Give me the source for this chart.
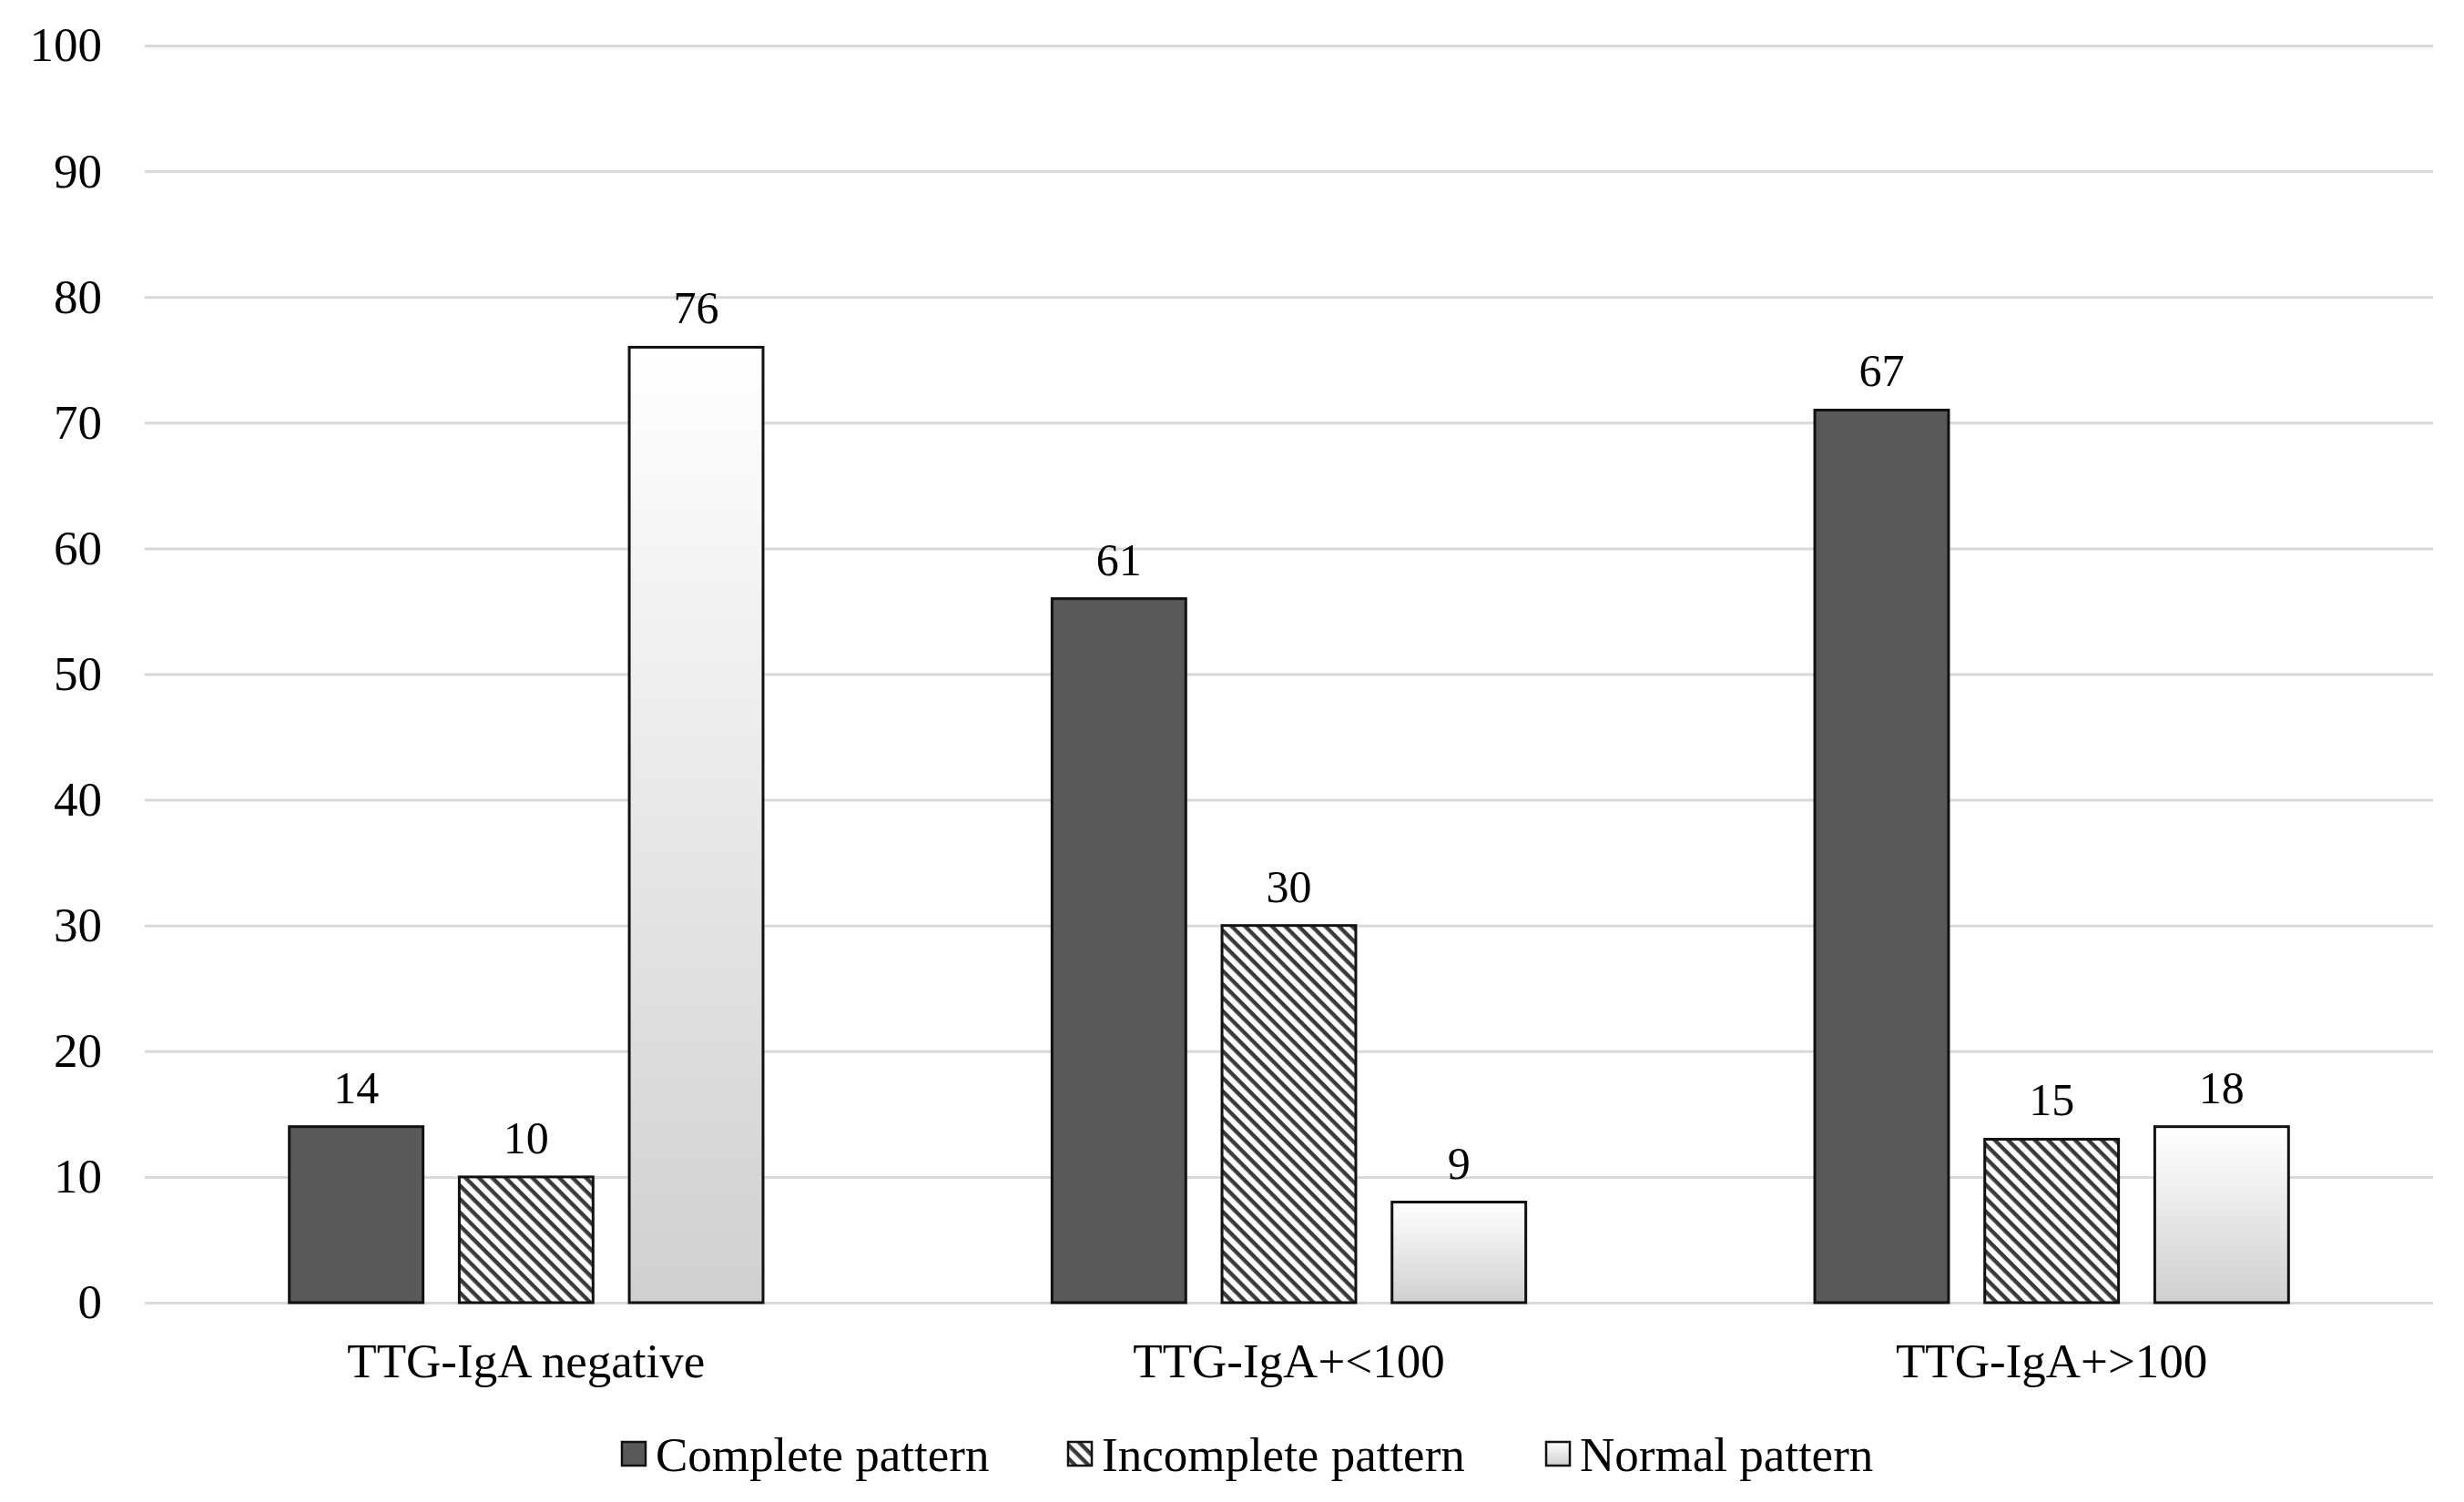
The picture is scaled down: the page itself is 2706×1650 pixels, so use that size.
<!DOCTYPE html>
<html>
<head>
<meta charset="utf-8">
<script src="https://cdn.jsdelivr.net/npm/d3@7"></script>
<style>
  html, body { margin: 0; padding: 0; background: #fff; }
  svg text { font-family: "Liberation Serif", "Times New Roman", serif; fill: #000; }
</style>
</head>
<body>
<div id="chart"></div>
<script>
// Data
const categories = ["TTG-IgA negative", "TTG-IgA+<100", "TTG-IgA+>100"];
const seriesNames = ["Complete pattern", "Incomplete pattern", "Normal pattern"];
// bar heights as drawn
const completeValues = [14, 56, 71];
const incompleteValues = [10, 30, 13];
const normalValues = [76, 8, 14];
// labels printed above the bars (they do not always match the bar heights)
const completeLabels = ["14", "61", "67"];
const incompleteLabels = ["10", "30", "15"];
const normalLabels = ["76", "9", "18"];
const yTicks = [0, 10, 20, 30, 40, 50, 60, 70, 80, 90, 100];

const width = 2706;
const height = 1650;
const margin = { top: 50, right: 34, bottom: 219, left: 159 };

const series = [
  { name: seriesNames[0], values: completeValues, labels: completeLabels, fill: "#595959" },
  { name: seriesNames[1], values: incompleteValues, labels: incompleteLabels, fill: "url(#hatch)" },
  { name: seriesNames[2], values: normalValues, labels: normalLabels, fill: "url(#normalGrad)" },
];

const svg = d3
  .select("#chart")
  .append("svg")
  .attr("width", width)
  .attr("height", height);

const defs = svg.append("defs");

// diagonal hatch for incomplete pattern (lines run top-left to bottom-right)
const hatch = defs
  .append("pattern")
  .attr("id", "hatch")
  .attr("patternUnits", "userSpaceOnUse")
  .attr("width", 10.4)
  .attr("height", 10.4)
  .attr("patternTransform", "rotate(45)");
hatch.append("rect").attr("width", 10.4).attr("height", 10.4).attr("fill", "#fff");
hatch.append("rect").attr("width", 10.4).attr("height", 4.4).attr("fill", "#3a3a3a");

// white-to-grey gradient for normal pattern
const grad = defs
  .append("linearGradient")
  .attr("id", "normalGrad")
  .attr("x1", 0).attr("y1", 0)
  .attr("x2", 0).attr("y2", 1);
grad.append("stop").attr("offset", "0%").attr("stop-color", "#ffffff");
grad.append("stop").attr("offset", "100%").attr("stop-color", "#d0d0d0");

const x0 = d3
  .scaleBand()
  .domain(categories)
  .range([margin.left, width - margin.right])
  .paddingInner(0)
  .paddingOuter(0);

const x1 = d3
  .scaleBand()
  .domain(seriesNames)
  .range([0, x0.bandwidth()])
  .paddingInner(0.213)
  .paddingOuter(0.85);

const y = d3
  .scaleLinear()
  .domain([0, 100])
  .range([height - margin.bottom, margin.top]);

// gridlines + y labels
const yAxis = d3
  .axisLeft(y)
  .tickValues(yTicks)
  .tickSize(-(width - margin.left - margin.right))
  .tickPadding(47);

svg
  .append("g")
  .attr("transform", `translate(${margin.left},0)`)
  .call(yAxis)
  .call((g) => g.select(".domain").remove())
  .call((g) => g.selectAll(".tick line").attr("stroke", "#d9d9d9").attr("stroke-width", 3))
  .call((g) =>
    g.selectAll(".tick text")
      .attr("font-size", 53)
      .attr("font-family", "Liberation Serif, Times New Roman, serif")
      .attr("fill", "#000")
  );

// bars
const groups = svg
  .append("g")
  .selectAll("g")
  .data(series)
  .join("g");

groups
  .selectAll("rect")
  .data((s) => s.values.map((v, i) => ({ s, v, i })))
  .join("rect")
  .attr("x", (d) => x0(categories[d.i]) + x1(d.s.name))
  .attr("y", (d) => y(d.v))
  .attr("width", x1.bandwidth())
  .attr("height", (d) => y(0) - y(d.v))
  .attr("fill", (d) => d.s.fill)
  .attr("stroke", "#111")
  .attr("stroke-width", 3);

// value labels
groups
  .selectAll("text")
  .data((s) => s.values.map((v, i) => ({ s, v, i })))
  .join("text")
  .attr("x", (d) => x0(categories[d.i]) + x1(d.s.name) + x1.bandwidth() / 2)
  .attr("y", (d) => y(d.v) - 26)
  .attr("text-anchor", "middle")
  .attr("font-size", 50)
  .text((d) => d.s.labels[d.i]);

// category labels
svg
  .append("g")
  .selectAll("text")
  .data(categories)
  .join("text")
  .attr("x", (d) => x0(d) + x0.bandwidth() / 2)
  .attr("y", 1513)
  .attr("text-anchor", "middle")
  .attr("font-size", 53)
  .text((d) => d);

// legend
const legendX = [683, 1173, 1698];
const legend = svg
  .append("g")
  .selectAll("g")
  .data(series)
  .join("g")
  .attr("transform", (d, i) => `translate(${legendX[i]},1584)`);

legend
  .append("rect")
  .attr("width", 26)
  .attr("height", 26)
  .attr("fill", (d) => d.fill)
  .attr("stroke", "#111")
  .attr("stroke-width", 2.5);

legend
  .append("text")
  .attr("x", 37)
  .attr("y", 32)
  .attr("font-size", 53)
  .text((d) => d.name);
</script>
</body>
</html>
